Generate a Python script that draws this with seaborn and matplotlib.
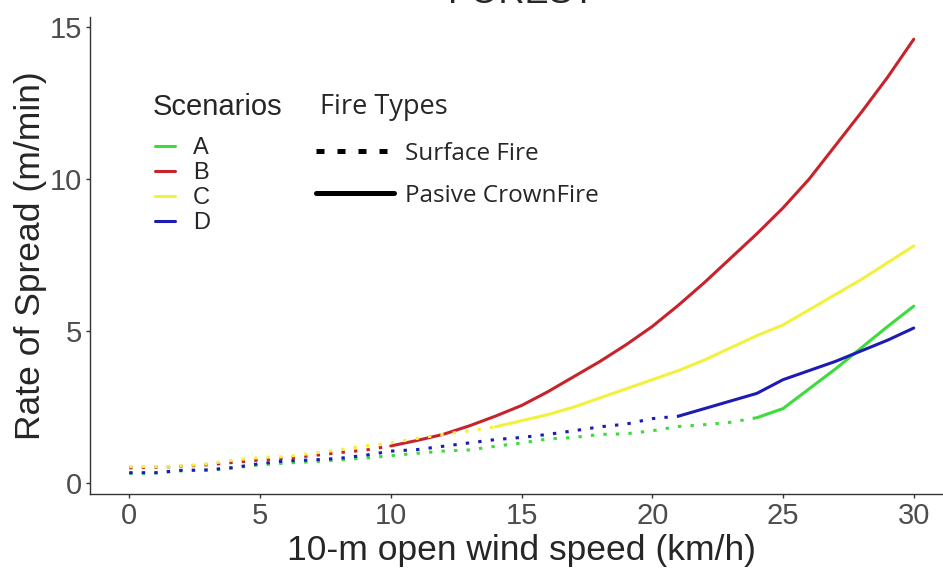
import pandas as pd
import matplotlib
matplotlib.use("Agg")
import matplotlib.pyplot as plt
from matplotlib.lines import Line2D
import seaborn as sns

# wind speed (km/h) and rate of spread (m/min) for each scenario
wind = list(range(0, 31))
ros_a = [0.32, 0.33, 0.40, 0.43, 0.50, 0.60, 0.66, 0.70, 0.76, 0.82, 0.90,
         0.98, 1.05, 1.09, 1.21, 1.32, 1.45, 1.50, 1.60, 1.62, 1.72,
         1.86, 1.92, 2.00, 2.15, 2.45, 3.10, 3.75, 4.45, 5.15, 5.82]
ros_b = [0.50, 0.52, 0.55, 0.60, 0.68, 0.76, 0.82, 0.90, 1.00, 1.08, 1.22,
         1.40, 1.60, 1.88, 2.20, 2.55, 3.00, 3.50, 4.00, 4.55, 5.15,
         5.85, 6.60, 7.40, 8.20, 9.05, 10.00, 11.10, 12.20, 13.35, 14.60]
ros_c = [0.54, 0.54, 0.56, 0.63, 0.76, 0.84, 0.87, 0.98, 1.09, 1.22, 1.32,
         1.47, 1.60, 1.72, 1.85, 2.05, 2.25, 2.50, 2.80, 3.10, 3.40,
         3.70, 4.05, 4.45, 4.85, 5.20, 5.70, 6.20, 6.70, 7.25, 7.80]
ros_d = [0.34, 0.34, 0.42, 0.43, 0.51, 0.64, 0.73, 0.76, 0.81, 0.91, 1.05,
         1.10, 1.21, 1.32, 1.43, 1.50, 1.60, 1.72, 1.85, 1.94, 2.12,
         2.20, 2.45, 2.70, 2.95, 3.40, 3.70, 4.00, 4.35, 4.70, 5.10]

scenarios = ["A", "B", "C", "D"]
# wind speed where passive crown fire starts
crown_start = [24, 10, 14, 21]
fire_types = ["Surface Fire", "Pasive CrownFire"]

colors = {"A": "#3CDC3C", "B": "#C8232B", "C": "#F2F23C", "D": "#1C1CB4"}


def build_frame():
    rows = []
    for sc, vals, start in zip(scenarios, [ros_a, ros_b, ros_c, ros_d], crown_start):
        for w, v in zip(wind, vals):
            # the transition point belongs to both segments so they join
            if w <= start:
                rows.append((w, v, sc, fire_types[0]))
            if w >= start:
                rows.append((w, v, sc, fire_types[1]))
    return pd.DataFrame(rows, columns=["wind", "ros", "scenario", "fire"])


df = build_frame()

sns.set_style("ticks")
plt.rcParams["font.family"] = ["Liberation Sans", "DejaVu Sans"]

fig = plt.figure(figsize=(9.43, 5.70), dpi=100)
ax = fig.add_axes([90 / 943, 76 / 570, 863 / 943, 477 / 570])

sns.lineplot(data=df, x="wind", y="ros", hue="scenario", style="fire",
             hue_order=scenarios, style_order=fire_types, palette=colors,
             dashes={"Surface Fire": (1.1, 3.0), "Pasive CrownFire": ""},
             lw=2.2, errorbar=None, legend=False, ax=ax)

ax.set_xlim(-1.5, 31.5)
ax.set_ylim(-0.36, 15.33)
ax.set_xticks([0, 5, 10, 15, 20, 25, 30])
ax.set_yticks([0, 5, 10, 15])
ax.tick_params(axis="both", labelsize=21, labelcolor="#4D4D4D", color="#333333",
               length=3, width=1, pad=2.5)
for side in ["top", "right"]:
    ax.spines[side].set_visible(False)
for side in ["left", "bottom"]:
    ax.spines[side].set_color("#333333")
    ax.spines[side].set_linewidth(1)

ax.set_xlabel("10-m open wind speed (km/h)", fontsize=25.5, labelpad=3)
ax.set_ylabel("Rate of Spread (m/min)", fontsize=25.5, labelpad=2)
ax.set_title("FOREST", fontsize=26, pad=10)

# legend: scenarios
fig.text(153 / 943, 1 - 107 / 570, "Scenarios", fontsize=21, va="center")
sc_handles = [Line2D([], [], color=colors[s], lw=2.2) for s in scenarios]
fig.legend(sc_handles, scenarios, loc="upper left",
           bbox_to_anchor=(155 / 943, 1 - 137 / 570), frameon=False,
           fontsize=17, handlelength=0.85, handletextpad=0.75,
           labelspacing=0.13, borderpad=0, borderaxespad=0)

# legend: fire types
ft_font = ["Open Sans", "DejaVu Sans"]
fig.text(320 / 943, 1 - 107 / 570, "Fire Types", fontsize=19.5, va="center",
         family=ft_font)
ft_handles = [Line2D([], [], color="black", lw=3.6, linestyle=(0, (1.6, 2.6))),
              Line2D([], [], color="black", lw=3.6)]
fig.legend(ft_handles, fire_types, loc="upper left",
           bbox_to_anchor=(316 / 943, 1 - 142 / 570), frameon=False,
           prop={"family": ft_font, "size": 17.5}, handlelength=3.2,
           handletextpad=0.45, labelspacing=0.73, borderpad=0, borderaxespad=0)

fig.savefig("out.png", dpi=100)
plt.close(fig)
